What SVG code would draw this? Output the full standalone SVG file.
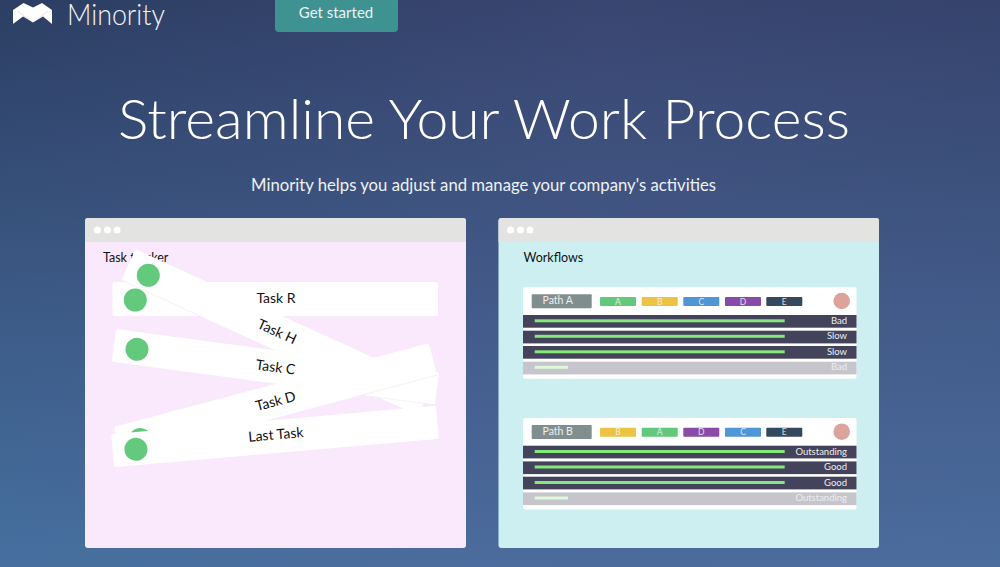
<svg xmlns="http://www.w3.org/2000/svg" width="1000" height="567" viewBox="0 0 1000 567">
<style>
text{font-family:Lato,"Open Sans","Liberation Sans",sans-serif}
.win{fill:#e3e3e1}
.dot{fill:#fff}
.task{fill:#fff}
.gc{fill:#63c97d}
.tl{font-size:14px;fill:#111;text-anchor:middle}
.wt{font-size:12.5px;fill:#111}
.card{fill:#fff}
.tag{font-size:8.5px;fill:#f4f4f4;text-anchor:middle;opacity:.85}
.row{fill:#43435c}
.rowg{fill:#c5c5cb}
.bar{fill:#85e878}
.barp{fill:#dff8d8}
.rt{font-size:9.5px;fill:#eee;text-anchor:end}
.rtg{font-size:9.5px;fill:#ecedf0;text-anchor:end}
.pt{font-size:10.500px;fill:#eee;text-anchor:middle}
.faint{stroke:#f4eaf6;stroke-width:.7;fill:none}
</style>
<defs>
<linearGradient id="bg" gradientUnits="userSpaceOnUse" x1="0" y1="0" x2="0" y2="567">
<stop offset="0" stop-color="#2c3e63"/>
<stop offset="0.5" stop-color="#3b5884"/>
<stop offset="1" stop-color="#46709f"/>
</linearGradient>
<linearGradient id="ov" gradientUnits="userSpaceOnUse" x1="0" y1="0" x2="1000" y2="0">
<stop offset="0" stop-color="#5c5c95" stop-opacity="0"/>
<stop offset="0.6" stop-color="#5c5c95" stop-opacity=".26"/>
<stop offset="1" stop-color="#5c5c95" stop-opacity=".18"/>
</linearGradient>
</defs>
<rect width="1000" height="567" fill="url(#bg)"/>
<rect width="1000" height="567" fill="url(#ov)"/>
<g id="logo"><path fill="#fff" d="M13 24V10L23.500 3L33 7.500L42 3L52 10V24L43 16.500L33 22.500L23 16.500Z"/><path d="M17 11L29 19.500M48 11L37 19.500" stroke="#c9cfdc" stroke-width=".6" fill="none"/></g>
<text x="67" y="25" font-size="29.500" font-weight="300" fill="#f2f4f8" textLength="98" lengthAdjust="spacingAndGlyphs">Minority</text>
<g id="get-started">
<path d="M275 -4H398V28a4 4 0 0 1 -4 4H279a4 4 0 0 1 -4 -4Z" fill="#3f9292"/>
<text x="336" y="18" font-size="15" fill="#e8f3f2" text-anchor="middle">Get started</text>
</g>
<text x="118" y="139" font-size="56" font-weight="300" fill="#fff" textLength="732" lengthAdjust="spacingAndGlyphs">Streamline Your Work Process</text>
<text x="251" y="191" font-size="16.500" fill="#eef1f6" textLength="465" lengthAdjust="spacingAndGlyphs">Minority helps you adjust and manage your company's activities</text>

<g id="window-left">
<rect x="85" y="218" width="381" height="330" rx="3" fill="#fae8fc"/>
<path d="M85 242V221a3 3 0 0 1 3 -3H463a3 3 0 0 1 3 3V242Z" class="win"/>
<circle class="dot" cx="97.500" cy="230" r="3.500"/><circle class="dot" cx="107.500" cy="230" r="3.500"/><circle class="dot" cx="117" cy="230" r="3.500"/>
<text class="wt" x="103" y="262">Task tracker</text>
</g>
<g id="task-r">
<rect class="task" x="112.500" y="282" width="325.500" height="34" rx="2"/>
<circle class="gc" cx="135.300" cy="300" r="11.500"/>
<text class="tl" x="276" y="303">Task R</text>
</g>
<g id="task-h" transform="translate(276.800 332.300) rotate(24.500)">
<rect class="task" x="-163" y="-17" width="326" height="34" rx="2"/>
<line class="faint" x1="-163" y1="17" x2="-72" y2="17"/>
</g>
<g id="task-h-content">
<circle class="gc" cx="148.300" cy="275.300" r="11.500"/>
<text class="tl" transform="translate(275 336) rotate(24.500)">Task H</text>
</g>
<g id="task-c" transform="translate(275.500 367) rotate(7.600)">
<rect class="task" x="-163" y="-16.500" width="326" height="33" rx="2"/>
<circle class="gc" cx="-139.600" cy="0.800" r="11.500"/>
<text class="tl" x="0" y="5">Task C</text>
<line class="faint" x1="70" y1="16.500" x2="163" y2="16.500"/>
</g>
<g id="task-d" transform="translate(275.500 401) rotate(-14.900)">
<rect class="task" x="-163" y="-16.500" width="326" height="33" rx="2"/>
<circle class="gc" cx="-140.800" cy="2.400" r="11.500"/>
<text class="tl" x="0" y="5">Task D</text>
<line class="faint" x1="75" y1="16.500" x2="163" y2="16.500"/>
</g>
<g id="last-task" transform="translate(275 436.500) rotate(-5)">
<rect class="task" x="-163" y="-16.500" width="326" height="33" rx="2"/>
<circle class="gc" cx="-139.600" cy="0.600" r="11.500"/>
<text class="tl" x="1" y="3">Last Task</text>
</g>

<g id="window-right">
<rect x="498.500" y="218" width="380.500" height="330" rx="3" fill="#ceeff1"/>
<path d="M498.500 242V221a3 3 0 0 1 3 -3H876a3 3 0 0 1 3 3V242Z" class="win"/>
<circle class="dot" cx="510.500" cy="230" r="3.500"/><circle class="dot" cx="520.500" cy="230" r="3.500"/><circle class="dot" cx="530" cy="230" r="3.500"/>
<text class="wt" x="523.500" y="262">Workflows</text>
</g>

<g id="path-a">
<rect class="card" x="523" y="287.300" width="333.500" height="91.400" rx="2"/>
<rect x="531.700" y="294.300" width="60" height="14" rx="1" fill="#818e8e"/>
<text class="pt" x="557.700" y="304">Path A</text>
<rect x="600" y="297" width="36" height="9" rx="1" fill="#62c97c"/><text class="tag" x="618" y="304.500">A</text>
<rect x="641.700" y="297" width="36" height="9" rx="1" fill="#ecc342"/><text class="tag" x="659.700" y="304.500">B</text>
<rect x="683.300" y="297" width="36" height="9" rx="1" fill="#4f96d6"/><text class="tag" x="701.300" y="304.500">C</text>
<rect x="725" y="297" width="36" height="9" rx="1" fill="#8a4aa8"/><text class="tag" x="743" y="304.500">D</text>
<rect x="766.300" y="297" width="36" height="9" rx="1" fill="#34495e"/><text class="tag" x="784.300" y="304.500">E</text>
<circle cx="841.700" cy="301" r="8.300" fill="#dca39a"/>
<rect class="row" x="523" y="315" width="333.500" height="12.700"/><rect class="bar" x="534.700" y="319.300" width="250" height="3"/><text class="rt" x="847" y="323.800">Bad</text>
<rect class="row" x="523" y="330.700" width="333.500" height="12.700"/><rect class="bar" x="534.700" y="334.800" width="250" height="3"/><text class="rt" x="847" y="339.300">Slow</text>
<rect class="row" x="523" y="346" width="333.500" height="12.700"/><rect class="bar" x="534.700" y="350.300" width="250" height="3"/><text class="rt" x="847" y="354.800">Slow</text>
<rect class="rowg" x="523" y="361.700" width="333.500" height="12.700"/><rect class="barp" x="534.700" y="365.800" width="33.300" height="3"/><text class="rtg" x="847" y="370.300">Bad</text>
</g>

<g id="path-b">
<rect class="card" x="523" y="418" width="333.500" height="91.400" rx="2"/>
<rect x="531.700" y="425" width="60" height="14" rx="1" fill="#818e8e"/>
<text class="pt" x="557.700" y="434.500">Path B</text>
<rect x="600" y="427.700" width="36" height="9" rx="1" fill="#ecc342"/><text class="tag" x="618" y="435.200">B</text>
<rect x="641.700" y="427.700" width="36" height="9" rx="1" fill="#62c97c"/><text class="tag" x="659.700" y="435.200">A</text>
<rect x="683.300" y="427.700" width="36" height="9" rx="1" fill="#8a4aa8"/><text class="tag" x="701.300" y="435.200">D</text>
<rect x="725" y="427.700" width="36" height="9" rx="1" fill="#4f96d6"/><text class="tag" x="743" y="435.200">C</text>
<rect x="766.300" y="427.700" width="36" height="9" rx="1" fill="#34495e"/><text class="tag" x="784.300" y="435.200">E</text>
<circle cx="841.700" cy="431.700" r="8.300" fill="#dca39a"/>
<rect class="row" x="523" y="445.700" width="333.500" height="12.700"/><rect class="bar" x="534.700" y="450" width="250" height="3"/><text class="rt" x="847" y="454.500">Outstanding</text>
<rect class="row" x="523" y="461.400" width="333.500" height="12.700"/><rect class="bar" x="534.700" y="465.500" width="250" height="3"/><text class="rt" x="847" y="470">Good</text>
<rect class="row" x="523" y="476.700" width="333.500" height="12.700"/><rect class="bar" x="534.700" y="481" width="250" height="3"/><text class="rt" x="847" y="485.500">Good</text>
<rect class="rowg" x="523" y="492.400" width="333.500" height="12.700"/><rect class="barp" x="534.700" y="496.500" width="33.300" height="3"/><text class="rtg" x="847" y="501">Outstanding</text>
</g>
</svg>
